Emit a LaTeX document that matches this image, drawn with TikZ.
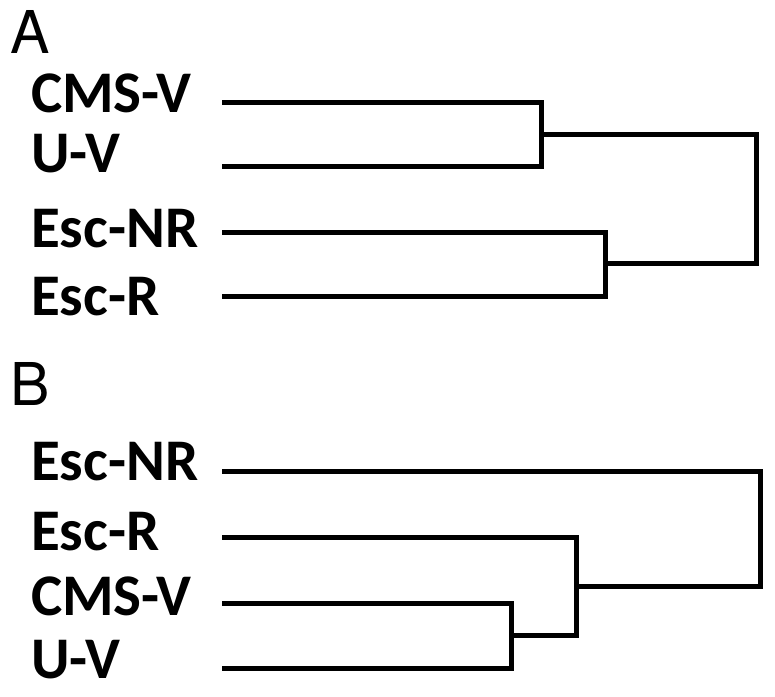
\documentclass[tikz,border=0pt]{standalone}
\usepackage{fontspec}
\newfontfamily\labfont{Carlito}
\newfontfamily\myheroslettersfont{TeX Gyre Heros}
\newcommand{\pantext}[1]{{\myheroslettersfont\fontsize{59}{64}\selectfont #1}}
\newcommand{\leaftext}[1]{{\labfont\bfseries\fontsize{59}{64}\selectfont #1}}
\begin{document}
\begin{tikzpicture}[x=1pt,y=-1pt,
  leaf/.style={anchor=base west,inner sep=0pt},
  panel/.style={anchor=base west,inner sep=0pt},
  dline/.style={line width=5pt,line join=miter,line cap=butt}]
\useasboundingbox (0,0) rectangle (775,696);
% panel letters
\node[panel] (pA) at (10,53) {\pantext{A}};
\node[panel] (pB) at (10,405) {\pantext{B}};
% panel A labels
\node[leaf] (lA1) at (31,112) {\leaftext{CMS-V}};
\node[leaf] (lA2) at (31,172) {\leaftext{U-V}};
\node[leaf] (lA3) at (31,247) {\leaftext{Esc-NR}};
\node[leaf] (lA4) at (31,315) {\leaftext{Esc-R}};
% panel B labels
\node[leaf] (lB1) at (31,480) {\leaftext{Esc-NR}};
\node[leaf] (lB2) at (31,550) {\leaftext{Esc-R}};
\node[leaf] (lB3) at (31,615) {\leaftext{CMS-V}};
\node[leaf] (lB4) at (31,678) {\leaftext{U-V}};
% leaf line starts
\coordinate (a1) at (222,102);
\coordinate (a2) at (222,166);
\coordinate (a3) at (222,232);
\coordinate (a4) at (222,296);
\coordinate (b1) at (222,471);
\coordinate (b2) at (222,537);
\coordinate (b3) at (222,603);
\coordinate (b4) at (222,668);
% junctions A
\coordinate (jA1) at (541,134);
\coordinate (jA2) at (605,263);
\coordinate (rA) at (756,134);
\draw[dline] (a1) -| (jA1) |- (a2);
\draw[dline] (a3) -| (jA2) |- (a4);
\draw[dline] (jA1) -- (rA) |- (jA2);
% junctions B
\coordinate (jB1) at (511,635);
\coordinate (jB2) at (576,586);
\coordinate (rB) at (760,586);
\draw[dline] (b3) -| (jB1) |- (b4);
\draw[dline] (b2) -| (jB2) |- (jB1);
\draw[dline] (b1) -| (rB) -- (jB2);
\end{tikzpicture}
\end{document}
